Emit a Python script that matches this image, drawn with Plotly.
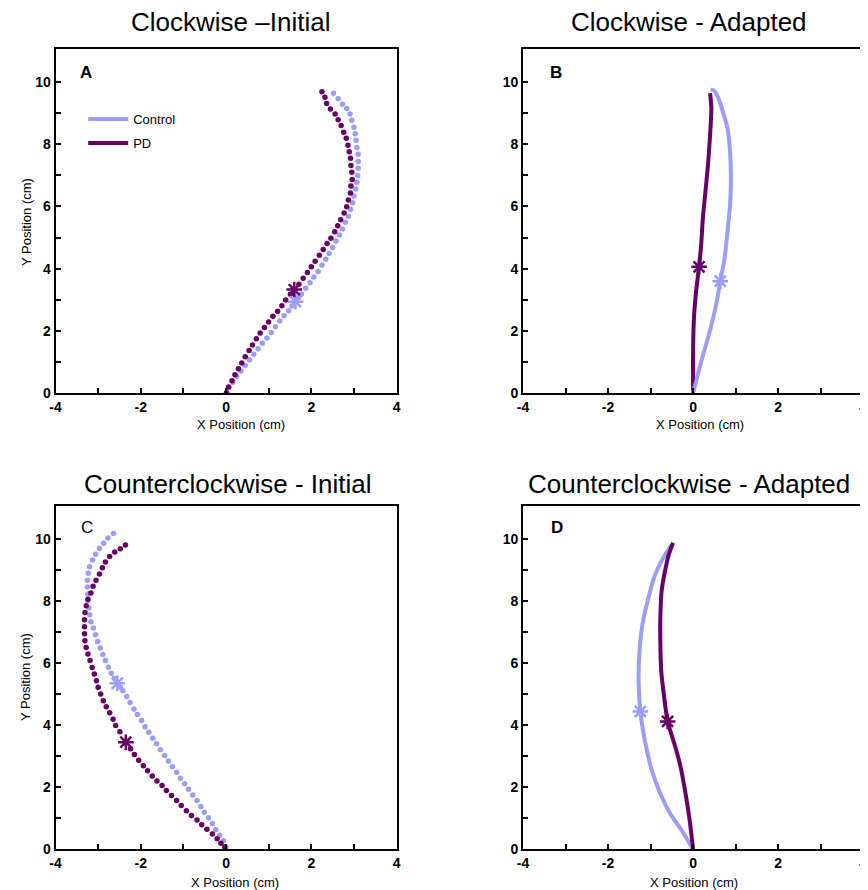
import plotly.graph_objects as go

# ---------------- data ----------------
# Panel A: Clockwise - Initial (sampled dots)
a_pd_x = [0.01, 0.06, 0.14, 0.21, 0.29, 0.37, 0.45, 0.54, 0.62, 0.71, 0.80, 0.90, 1.00, 1.10,
          1.21, 1.31, 1.40, 1.51, 1.60, 1.71, 1.81, 1.91, 2.00, 2.09, 2.19, 2.28, 2.37, 2.46,
          2.55, 2.62, 2.69, 2.77, 2.83, 2.87, 2.92, 2.93, 2.96, 2.95, 2.93, 2.92, 2.89, 2.86,
          2.82, 2.76, 2.70, 2.63, 2.56, 2.45, 2.36, 2.32, 2.25]
a_pd_y = [0.01, 0.20, 0.40, 0.59, 0.78, 0.97, 1.17, 1.37, 1.55, 1.75, 1.93, 2.11, 2.29, 2.47,
          2.63, 2.81, 2.99, 3.18, 3.33, 3.50, 3.69, 3.88, 4.06, 4.24, 4.43, 4.62, 4.81, 4.98,
          5.19, 5.38, 5.57, 5.79, 5.99, 6.21, 6.43, 6.66, 6.87, 7.10, 7.32, 7.55, 7.76, 7.97,
          8.19, 8.39, 8.60, 8.79, 8.97, 9.13, 9.31, 9.51, 9.69]
a_ct_x = [0.02, 0.07, 0.16, 0.25, 0.35, 0.45, 0.55, 0.65, 0.75, 0.85, 0.96, 1.06, 1.16, 1.26,
          1.36, 1.47, 1.55, 1.63, 1.70, 1.77, 1.87, 1.97, 2.06, 2.16, 2.25, 2.34, 2.42, 2.50,
          2.58, 2.66, 2.73, 2.80, 2.87, 2.92, 2.97, 3.00, 3.04, 3.07, 3.09, 3.10, 3.10, 3.10,
          3.07, 3.05, 3.03, 3.00, 2.95, 2.91, 2.83, 2.73, 2.63, 2.52]
a_ct_y = [0.00, 0.18, 0.35, 0.54, 0.71, 0.89, 1.07, 1.25, 1.43, 1.60, 1.77, 1.95, 2.13, 2.32,
          2.49, 2.65, 2.80, 2.94, 3.07, 3.19, 3.37, 3.55, 3.73, 3.91, 4.12, 4.30, 4.49, 4.68,
          4.89, 5.08, 5.28, 5.49, 5.69, 5.91, 6.12, 6.34, 6.56, 6.78, 7.00, 7.23, 7.45, 7.68,
          7.90, 8.13, 8.34, 8.55, 8.77, 8.97, 9.15, 9.29, 9.46, 9.64]

# Panel B: Clockwise - Adapted (continuous paths)
b_pd_x = [0.00, 0.00, 0.02, 0.07, 0.14, 0.19, 0.23, 0.29, 0.35, 0.40, 0.43, 0.40]
b_pd_y = [0.00, 1.33, 2.40, 3.26, 4.06, 4.76, 5.62, 6.47, 7.33, 8.30, 9.15, 9.64]
b_ct_x = [0.00, 0.19, 0.39, 0.54, 0.64, 0.74, 0.81, 0.87, 0.89, 0.87, 0.81, 0.70, 0.58, 0.48, 0.41]
b_ct_y = [0.00, 1.01, 1.97, 2.83, 3.60, 4.33, 5.19, 6.05, 6.90, 7.76, 8.51, 9.05, 9.53, 9.74, 9.75]

# Panel C: Counterclockwise - Initial (sampled dots)
c_pd_x = [-0.03, -0.12, -0.21, -0.32, -0.45, -0.57, -0.68, -0.81, -0.93, -1.05, -1.16, -1.28,
          -1.40, -1.50, -1.62, -1.73, -1.84, -1.94, -2.05, -2.15, -2.24, -2.35, -2.49, -2.59,
          -2.65, -2.73, -2.81, -2.88, -2.94, -3.00, -3.04, -3.09, -3.14, -3.19, -3.24, -3.28,
          -3.31, -3.32, -3.32, -3.32, -3.31, -3.28, -3.24, -3.17, -3.12, -3.05, -2.97, -2.90,
          -2.83, -2.73, -2.61, -2.48, -2.36]
c_pd_y = [0.07, 0.19, 0.34, 0.49, 0.64, 0.79, 0.94, 1.09, 1.24, 1.41, 1.57, 1.73, 1.89, 2.05,
          2.20, 2.36, 2.53, 2.69, 2.87, 3.05, 3.24, 3.45, 3.79, 3.99, 4.19, 4.40, 4.59, 4.79,
          5.00, 5.22, 5.43, 5.65, 5.86, 6.08, 6.29, 6.50, 6.72, 6.95, 7.17, 7.40, 7.63, 7.85,
          8.06, 8.26, 8.48, 8.67, 8.87, 9.07, 9.26, 9.44, 9.58, 9.69, 9.81]
c_ct_x = [0.00, -0.06, -0.15, -0.24, -0.32, -0.41, -0.51, -0.59, -0.68, -0.78, -0.88, -0.97,
          -1.07, -1.16, -1.26, -1.35, -1.44, -1.54, -1.63, -1.72, -1.81, -1.90, -1.98, -2.08,
          -2.16, -2.25, -2.33, -2.42, -2.48, -2.55, -2.62, -2.69, -2.76, -2.83, -2.89, -2.95,
          -3.01, -3.06, -3.11, -3.17, -3.20, -3.22, -3.24, -3.24, -3.25, -3.25, -3.23, -3.20,
          -3.13, -3.06, -2.97, -2.87, -2.77, -2.64]
c_ct_y = [0.05, 0.27, 0.45, 0.63, 0.83, 1.01, 1.19, 1.38, 1.57, 1.75, 1.93, 2.11, 2.29, 2.48,
          2.66, 2.84, 3.02, 3.21, 3.40, 3.58, 3.77, 3.95, 4.15, 4.34, 4.52, 4.73, 4.92, 5.11,
          5.23, 5.35, 5.51, 5.67, 5.87, 6.08, 6.28, 6.49, 6.70, 6.91, 7.13, 7.33, 7.56, 7.78,
          8.01, 8.23, 8.45, 8.67, 8.90, 9.11, 9.32, 9.51, 9.70, 9.86, 10.03, 10.18]

# Panel D: Counterclockwise - Adapted (continuous paths)
d_pd_x = [0.00, -0.08, -0.19, -0.31, -0.44, -0.60, -0.68, -0.75, -0.77, -0.77, -0.74, -0.66, -0.57, -0.47]
d_pd_y = [0.00, 0.93, 1.90, 2.75, 3.40, 4.12, 4.90, 5.76, 6.61, 7.47, 8.33, 8.97, 9.51, 9.88]
d_ct_x = [0.00, -0.27, -0.54, -0.77, -0.97, -1.12, -1.24, -1.28, -1.26, -1.19, -1.05, -0.89, -0.70, -0.50]
d_ct_y = [0.00, 0.61, 1.15, 1.79, 2.54, 3.40, 4.44, 5.33, 6.40, 7.26, 8.11, 8.86, 9.40, 9.83]

# peak-velocity markers (asterisks): [x, y]
stars = {
    "A": {"pd": [1.60, 3.33], "ct": [1.63, 2.94]},
    "B": {"pd": [0.14, 4.06], "ct": [0.64, 3.60]},
    "C": {"pd": [-2.35, 3.45], "ct": [-2.55, 5.35]},
    "D": {"pd": [-0.60, 4.12], "ct": [-1.24, 4.44]},
}

titles = ["Clockwise \u2013Initial", "Clockwise - Adapted",
          "Counterclockwise - Initial", "Counterclockwise - Adapted"]
panel_letters = ["A", "B", "C", "D"]
series_names = ["Control", "PD"]

x_tickvals = [-4, -3, -2, -1, 0, 1, 2, 3, 4]
x_ticktext = ["-4", "", "-2", "", "0", "", "2", "", "4"]
y_tickvals = [0, 1, 2, 3, 4, 5, 6, 7, 8, 9, 10]
y_ticktext = ["0", "", "2", "", "4", "", "6", "", "8", "", "10"]

# ---------------- styling ----------------
CT = "#9d9df5"
PD = "#660066"
FONT = "Arial, Liberation Sans, sans-serif"
W, H = 868, 890
OFF = 8            # default page body margin
SY = 876 / 868     # vertical compensation observed in the photographed page

fig = go.Figure()

# axis boxes in target picture pixels (left, right, top, bottom)
boxes = {
    "A": (50, 395, 49, 393),
    "B": (523, 867, 49, 393),
    "C": (50, 395, 506, 849),
    "D": (523, 867, 506, 849),
}
axis_ids = {"A": ("x", "y"), "B": ("x2", "y2"), "C": ("x3", "y3"), "D": ("x4", "y4")}

def px2paper_x(px):
    return (px - OFF) / W

def px2paper_y(py):
    return 1 - (py * SY - OFF) / H

layout_axes = {}
for key in ["A", "B", "C", "D"]:
    l, r, t, b = boxes[key]
    xa, ya = axis_ids[key]
    xname = "xaxis" if xa == "x" else "xaxis" + xa[1:]
    yname = "yaxis" if ya == "y" else "yaxis" + ya[1:]
    layout_axes[xname] = dict(
        domain=[px2paper_x(l), min(1.0, px2paper_x(r))], range=[-4, 4], anchor=ya,
        tickmode="array", tickvals=x_tickvals, ticktext=x_ticktext,
        ticks="inside", ticklen=5, tickwidth=2, tickcolor="black",
        showline=True, linewidth=2, linecolor="black", mirror=True,
        showgrid=False, zeroline=False, fixedrange=True,
        tickfont=dict(family=FONT, size=14, color="black", weight="bold"),
    )
    layout_axes[yname] = dict(
        domain=[max(0.0, px2paper_y(b)), min(1.0, px2paper_y(t))], range=[0, 11.06], anchor=xa,
        tickmode="array", tickvals=y_tickvals, ticktext=y_ticktext,
        ticks="inside", ticklen=5, tickwidth=2, tickcolor="black",
        showline=True, linewidth=2, linecolor="black", mirror=True,
        showgrid=False, zeroline=False, fixedrange=True,
        tickfont=dict(family=FONT, size=14, color="black", weight="bold"),
    )

def add_dots(x, y, color, xa, ya):
    fig.add_trace(go.Scatter(x=x, y=y, mode="markers", xaxis=xa, yaxis=ya,
                             marker=dict(color=color, size=5.5), showlegend=False,
                             hoverinfo="skip"))

def add_path(x, y, color, xa, ya):
    fig.add_trace(go.Scatter(x=x, y=y, mode="lines", xaxis=xa, yaxis=ya,
                             line=dict(color=color, width=4, shape="spline", smoothing=0.6),
                             showlegend=False, hoverinfo="skip"))

def add_star(pt, color, xa, ya):
    fig.add_trace(go.Scatter(x=[pt[0]], y=[pt[1]], mode="markers", xaxis=xa, yaxis=ya,
                             marker=dict(symbol="asterisk-open", size=13, color=color,
                                         line=dict(color=color, width=2.5)),
                             showlegend=False, hoverinfo="skip"))

# Panel A
add_dots(a_ct_x, a_ct_y, CT, "x", "y")
add_dots(a_pd_x, a_pd_y, PD, "x", "y")
add_star(stars["A"]["ct"], CT, "x", "y")
add_star(stars["A"]["pd"], PD, "x", "y")
# Panel B
add_path(b_pd_x, b_pd_y, PD, "x2", "y2")
add_path(b_ct_x, b_ct_y, CT, "x2", "y2")
add_star(stars["B"]["ct"], CT, "x2", "y2")
add_star(stars["B"]["pd"], PD, "x2", "y2")
# Panel C
add_dots(c_ct_x, c_ct_y, CT, "x3", "y3")
add_dots(c_pd_x, c_pd_y, PD, "x3", "y3")
add_star(stars["C"]["ct"], CT, "x3", "y3")
add_star(stars["C"]["pd"], PD, "x3", "y3")
# Panel D
add_path(d_ct_x, d_ct_y, CT, "x4", "y4")
add_path(d_pd_x, d_pd_y, PD, "x4", "y4")
add_star(stars["D"]["ct"], CT, "x4", "y4")
add_star(stars["D"]["pd"], PD, "x4", "y4")

# legend entries
for name, col in zip(series_names, [CT, PD]):
    fig.add_trace(go.Scatter(x=[None], y=[None], mode="lines", name=name,
                             legendgroup=name, line=dict(color=col, width=4),
                             xaxis="x", yaxis="y"))

annotations = []
title_pos = [(227.5, 22), (691, 22), (224.5, 484), (691, 484)]
for t, (cx, cy) in zip(titles, title_pos):
    annotations.append(dict(text=t, x=px2paper_x(cx), y=px2paper_y(cy), xref="paper", yref="paper",
                            xanchor="center", yanchor="middle", showarrow=False,
                            font=dict(family=FONT, size=26, color="black")))
letter_pos = [(81, 72), (556, 72), (82, 527), (557, 527)]
letter_weight = ["bold", "bold", "normal", "bold"]
for t, (cx, cy), wgt in zip(panel_letters, letter_pos, letter_weight):
    annotations.append(dict(text=t, x=px2paper_x(cx), y=px2paper_y(cy), xref="paper", yref="paper",
                            xanchor="center", yanchor="middle", showarrow=False,
                            font=dict(family=FONT, size=17, color="black", weight=wgt)))
xt_pos = [(238, 424), (702, 424), (232, 882), (696, 882)]
for cx, cy in xt_pos:
    annotations.append(dict(text="X Position (cm)", x=px2paper_x(cx), y=px2paper_y(cy),
                            xref="paper", yref="paper", xanchor="center", yanchor="middle",
                            showarrow=False, font=dict(family=FONT, size=13, color="black")))
yt_pos = [(20, 222), (19, 677)]
for cx, cy in yt_pos:
    annotations.append(dict(text="Y Position (cm)", x=px2paper_x(cx), y=px2paper_y(cy),
                            xref="paper", yref="paper", xanchor="center", yanchor="middle",
                            textangle=-90, showarrow=False,
                            font=dict(family=FONT, size=13, color="black")))

fig.update_layout(
    width=W, height=H, margin=dict(l=0, r=0, t=0, b=0),
    paper_bgcolor="white", plot_bgcolor="white",
    annotations=annotations,
    showlegend=True,
    legend=dict(x=px2paper_x(78), y=px2paper_y(104), xanchor="left", yanchor="top",
                bgcolor="rgba(0,0,0,0)", borderwidth=0, tracegroupgap=4,
                font=dict(family=FONT, size=13, color="black"), itemwidth=40),
    **layout_axes,
)

fig.write_html("out.html", config={"displayModeBar": False})
